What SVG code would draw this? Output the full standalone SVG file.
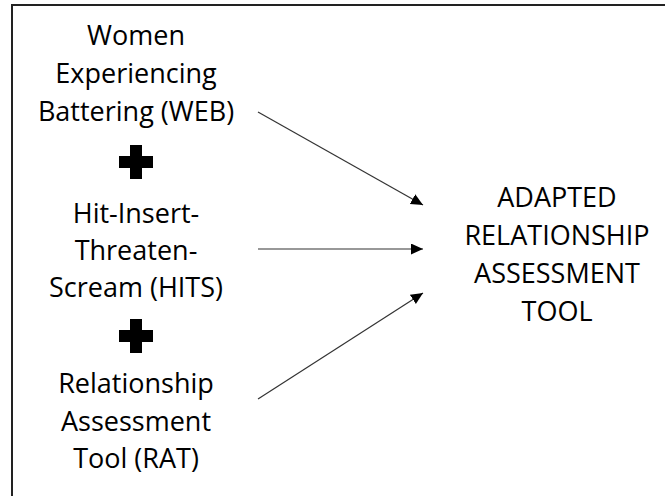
<svg xmlns="http://www.w3.org/2000/svg" width="665" height="496" viewBox="0 0 665 496">
<defs>
<style>
.t{font-family:"Open Sans","Liberation Sans",sans-serif;font-size:27px;fill:#000;text-anchor:middle}
.c{stroke:#333;stroke-width:1.2;fill:none}
</style>
<marker id="ah" markerUnits="userSpaceOnUse" markerWidth="13" markerHeight="12" refX="12" refY="5.5" orient="auto">
<path d="M0,0 L12,5.5 L0,11 z" fill="#000"/>
</marker>
</defs>
<rect x="12" y="5" width="670" height="500" fill="#fff" stroke="#222" stroke-width="2"/>
<g id="web">
<text class="t" x="136" y="45">Women</text>
<text class="t" x="136" y="83">Experiencing</text>
<text class="t" x="136" y="121">Battering (WEB)</text>
</g>
<g id="plus1"><path d="M130,145 h12 v11 h11 v12 h-11 v11 h-12 v-11 h-11 v-12 h11 z" fill="#000"/></g>
<g id="hits">
<text class="t" x="136" y="223">Hit-Insert-</text>
<text class="t" x="136" y="260">Threaten-</text>
<text class="t" x="136" y="297">Scream (HITS)</text>
</g>
<g id="plus2"><path d="M130,319 h12 v11 h11 v12 h-11 v11 h-12 v-11 h-11 v-12 h11 z" fill="#000"/></g>
<g id="rat">
<text class="t" x="136" y="393">Relationship</text>
<text class="t" x="136" y="431">Assessment</text>
<text class="t" x="136" y="468">Tool (RAT)</text>
</g>
<g id="art">
<text class="t" x="557" y="207">ADAPTED</text>
<text class="t" x="557" y="245">RELATIONSHIP</text>
<text class="t" x="557" y="283">ASSESSMENT</text>
<text class="t" x="557" y="321">TOOL</text>
</g>
<g id="connectors">
<line class="c" x1="258" y1="112" x2="423" y2="205" marker-end="url(#ah)"/>
<line class="c" x1="258" y1="249" x2="423" y2="249" marker-end="url(#ah)"/>
<line class="c" x1="258" y1="399" x2="423" y2="293" marker-end="url(#ah)"/>
</g>
</svg>
